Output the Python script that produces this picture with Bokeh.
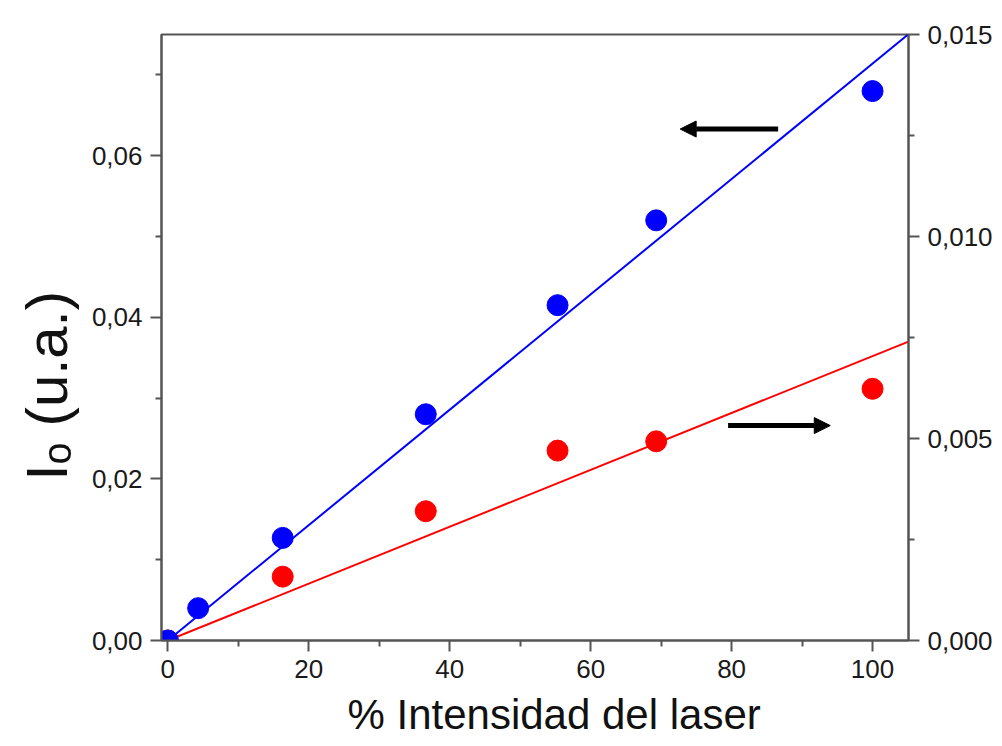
import numpy as np
from bokeh.plotting import figure
from bokeh.models import (Range1d, LinearAxis, FixedTicker, CustomJSTickFormatter,
                          Title, Arrow, NormalHead)
from bokeh.embed import file_html
from bokeh.resources import INLINE

# ---- data ----
laser_pct = [0, 4.3, 16.3, 36.6, 55.3, 69.3, 100]
io_left = [0.0, 0.0040, 0.0127, 0.0280, 0.0415, 0.0520, 0.0680]      # blue, left axis

laser_pct_red = [0, 16.3, 36.6, 55.3, 69.3, 100]
io_right = [0.0, 0.00158, 0.00320, 0.00470, 0.00493, 0.00623]        # red, right axis

fit_x = [0, 105.1]
blue_slope = 0.000714
red_slope = 0.0000704

x_ticks = [0, 20, 40, 60, 80, 100]
x_minor = [10, 30, 50, 70, 90]
left_ticks = [0, 0.02, 0.04, 0.06]
left_minor = [0.01, 0.03, 0.05, 0.07]
right_ticks = [0, 0.005, 0.010, 0.015]
right_minor = [0.0025, 0.0075, 0.0125]

x_title = "% Intensidad del laser"
y_title = "I\u2092 (u.a.)"

# arrows (data coordinates, left axis)
arrow_left = dict(x_start=86.6, x_end=72.7, y=0.0633)
arrow_right = dict(x_start=79.5, x_end=94.0, y=0.0266)

FONT = "Liberation Sans"
AX_COL = "#555555"
TXT = "#1a1a1a"

p = figure(width=1002, height=746,
           x_range=Range1d(-0.9, 105.1), y_range=Range1d(0, 0.075),
           output_backend="svg", toolbar_location=None,
           min_border_left=161, min_border_right=94,
           min_border_top=34, min_border_bottom=106)
p.title.visible = False
p.xgrid.visible = False
p.ygrid.visible = False
p.outline_line_color = AX_COL
p.outline_line_width = 2
p.background_fill_color = "white"
p.border_fill_color = "white"

p.extra_y_ranges = {"right": Range1d(0, 0.015)}
raxis = LinearAxis(y_range_name="right")
p.add_layout(raxis, "right")

p.xaxis[0].ticker = FixedTicker(ticks=x_ticks, minor_ticks=x_minor)
p.yaxis[0].ticker = FixedTicker(ticks=left_ticks, minor_ticks=left_minor)
raxis.ticker = FixedTicker(ticks=right_ticks, minor_ticks=right_minor)

p.xaxis[0].formatter = CustomJSTickFormatter(code="return tick.toFixed(0);")
p.yaxis[0].formatter = CustomJSTickFormatter(code="return tick.toFixed(2).replace('.', ',');")
raxis.formatter = CustomJSTickFormatter(code="return tick.toFixed(3).replace('.', ',');")

for ax in [p.xaxis[0], p.yaxis[0], raxis]:
    ax.axis_line_color = AX_COL
    ax.axis_line_width = 2
    ax.major_tick_line_color = AX_COL
    ax.major_tick_line_width = 2
    ax.minor_tick_line_color = AX_COL
    ax.minor_tick_line_width = 2
    ax.major_tick_in = 0
    ax.major_tick_out = 11
    ax.minor_tick_in = 0
    ax.minor_tick_out = 6
    ax.major_label_text_font = FONT
    ax.major_label_text_font_size = "26px"
    ax.major_label_text_color = TXT
    ax.major_label_standoff = 8

# fit lines
fx = np.array(fit_x)
p.line(fx, blue_slope * fx, line_color="#0000ff", line_width=2)
p.line(fx, red_slope * fx, line_color="#ff0000", line_width=2, y_range_name="right")

# points
p.scatter(laser_pct_red, io_right, size=21, color="#ff0000", y_range_name="right")
p.scatter(laser_pct, io_left, size=21, color="#0000ff")

# arrows
for a in (arrow_left, arrow_right):
    p.add_layout(Arrow(end=NormalHead(size=16, fill_color="black", line_color="black", line_width=1),
                       x_start=a["x_start"], y_start=a["y"], x_end=a["x_end"], y_end=a["y"],
                       line_color="black", line_width=5))

# axis titles as side-panel titles (so they are not clipped by the frame)
p.add_layout(Title(text=x_title, align="left", offset=186, standoff=16,
                   text_font=FONT, text_font_size="42px", text_font_style="normal",
                   text_color="#111111"), "below")
p.add_layout(Title(text=y_title, align="left", offset=160, standoff=20,
                   text_font=FONT, text_font_size="58px", text_font_style="normal",
                   text_color="#111111"), "left")

open("out.html", "w").write(file_html(p, INLINE))
